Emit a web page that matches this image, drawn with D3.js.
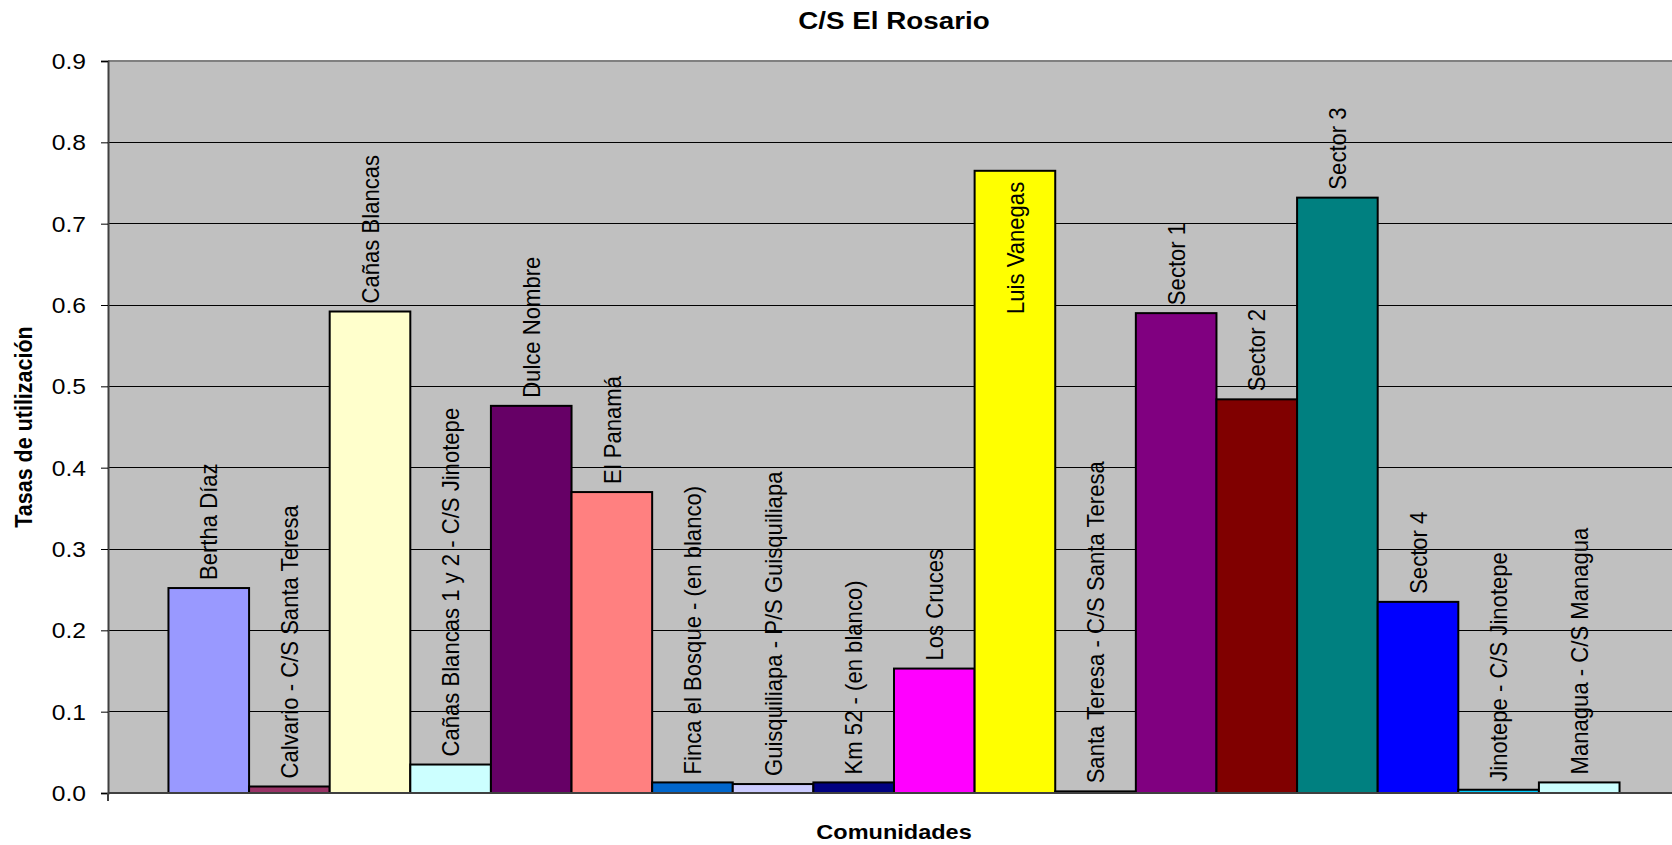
<!DOCTYPE html>
<html>
<head>
<meta charset="utf-8">
<script src="https://cdn.jsdelivr.net/npm/d3@7/dist/d3.min.js"></script>
<style>
  html, body { margin: 0; padding: 0; background: #fff; overflow: hidden; }
  svg { display: block; font-family: "Liberation Sans", Arial, sans-serif; }
</style>
</head>
<body>
<svg id="chart" width="1672" height="845"></svg>
<script>
// Utilization rate per community, C/S El Rosario
const comunidades = [
  "Bertha Díaz",
  "Calvario - C/S Santa Teresa",
  "Cañas Blancas",
  "Cañas Blancas 1 y 2 - C/S Jinotepe",
  "Dulce Nombre",
  "El Panamá",
  "Finca el Bosque - (en blanco)",
  "Guisquiliapa - P/S Guisquiliapa",
  "Km 52 - (en blanco)",
  "Los Cruces",
  "Luis Vanegas",
  "Santa Teresa - C/S Santa Teresa",
  "Sector 1",
  "Sector 2",
  "Sector 3",
  "Sector 4",
  "Jinotepe - C/S Jinotepe",
  "Managua - C/S Managua"
];
const tasas = [0.252, 0.008, 0.592, 0.035, 0.476, 0.370, 0.013, 0.011, 0.013,
               0.153, 0.765, 0.002, 0.590, 0.484, 0.732, 0.235, 0.004, 0.013];
const colores = ["#9999FF", "#993366", "#FFFFCC", "#CCFFFF", "#660066", "#FF8080",
                 "#0066CC", "#CCCCFF", "#000080", "#FF00FF", "#FFFF00", "#00FFFF",
                 "#800080", "#800000", "#008080", "#0000FF", "#00CCFF", "#CCFFFF"];
const yTicks = [0, 0.1, 0.2, 0.3, 0.4, 0.5, 0.6, 0.7, 0.8, 0.9];
const titulo = "C/S El Rosario";
const tituloX = "Comunidades";
const tituloY = "Tasas de utilización";

const svg = d3.select("#chart");
const W = 1672, H = 845;
const plot = { left: 108, right: 1680, top: 61, bottom: 793 };
const sx = 1.12; // glyphs are drawn slightly wide

svg.append("rect").attr("width", W).attr("height", H).attr("fill", "#fff");

const x = d3.scaleBand()
  .domain(comunidades)
  .range([plot.left, plot.right])
  .paddingInner(0)
  .paddingOuter(0.75);

const y = d3.scaleLinear()
  .domain([0, 0.9])
  .range([plot.bottom, plot.top]);

// plot area
svg.append("rect")
  .attr("x", plot.left).attr("y", plot.top)
  .attr("width", plot.right - plot.left)
  .attr("height", plot.bottom - plot.top)
  .attr("fill", "#C0C0C0");

// gridlines
svg.append("g")
  .selectAll("line")
  .data(yTicks.filter(t => t > 0 && t < 0.9))
  .join("line")
  .attr("x1", plot.left).attr("x2", plot.right)
  .attr("y1", d => y(d)).attr("y2", d => y(d))
  .attr("stroke", "#000").attr("stroke-width", 1)
  .attr("shape-rendering", "crispEdges");

// top border of plot area
svg.append("line")
  .attr("x1", plot.left).attr("x2", plot.right)
  .attr("y1", plot.top).attr("y2", plot.top)
  .attr("stroke", "#808080").attr("stroke-width", 2);

// bars
svg.append("g")
  .selectAll("rect")
  .data(comunidades)
  .join("rect")
  .attr("x", d => x(d))
  .attr("y", (d, i) => y(tasas[i]))
  .attr("width", x.bandwidth())
  .attr("height", (d, i) => y(0) - y(tasas[i]))
  .attr("fill", (d, i) => colores[i])
  .attr("stroke", "#000")
  .attr("stroke-width", 2);

// y axis
const yAxis = d3.axisLeft(y)
  .tickValues(yTicks)
  .tickFormat(d3.format(".1f"))
  .tickSize(7)
  .tickPadding(0);
const gy = svg.append("g")
  .attr("transform", `translate(${plot.left},0)`)
  .call(yAxis);
gy.select(".domain").attr("stroke", "#404040").attr("stroke-width", 2);
gy.selectAll(".tick line").attr("stroke", "#000").attr("stroke-width", 1);
gy.selectAll(".tick text").each(function () {
  const t = d3.select(this);
  t.attr("x", null).attr("dy", null)
    .attr("text-anchor", "end")
    .attr("dominant-baseline", "central")
    .attr("fill", "#000")
    .attr("font-size", 22)
    .attr("font-family", "Liberation Sans, Arial, sans-serif")
    .attr("transform", `translate(-22,0) scale(${sx},1)`);
});

// x axis baseline and boundary tick
svg.append("line")
  .attr("x1", plot.left).attr("x2", plot.right)
  .attr("y1", y(0)).attr("y2", y(0))
  .attr("stroke", "#404040").attr("stroke-width", 2);
svg.append("line")
  .attr("x1", plot.left).attr("x2", plot.left)
  .attr("y1", y(0)).attr("y2", y(0) + 8)
  .attr("stroke", "#404040").attr("stroke-width", 2);

// value labels: category names standing above each bar
const gap = 8;
const labels = svg.append("g")
  .selectAll("g")
  .data(comunidades)
  .join("g");
labels.each(function (d, i) {
  const g = d3.select(this);
  const cx = x(d) + x.bandwidth() / 2;
  const top = y(tasas[i]);
  const txt = g.append("text")
    .attr("font-size", 22.1)
    .attr("fill", "#000")
    .attr("dy", "0.35em")
    .attr("text-anchor", "start")
    .text(d);
  const len = txt.node().getComputedTextLength();
  if (top - gap - len < plot.top) {
    // not enough room above: put it inside the bar
    txt.attr("text-anchor", "end");
    g.attr("transform", `translate(${cx},${top + gap + 3}) scale(${sx},1) rotate(-90)`);
  } else {
    g.attr("transform", `translate(${cx},${top - gap}) scale(${sx},1) rotate(-90)`);
  }
});

// titles
const midX = (plot.left + plot.right) / 2;
svg.append("g")
  .attr("transform", `translate(${midX},29) scale(${sx},1)`)
  .append("text")
  .attr("text-anchor", "middle")
  .attr("font-weight", "bold")
  .attr("font-size", 24.8)
  .text(titulo);

svg.append("g")
  .attr("transform", `translate(${midX},839) scale(${sx},1)`)
  .append("text")
  .attr("text-anchor", "middle")
  .attr("font-weight", "bold")
  .attr("font-size", 21)
  .text(tituloX);

svg.append("g")
  .attr("transform", `translate(32,${(plot.top + plot.bottom) / 2}) scale(${sx},1) rotate(-90)`)
  .append("text")
  .attr("text-anchor", "middle")
  .attr("font-weight", "bold")
  .attr("font-size", 21.5)
  .text(tituloY);
</script>
</body>
</html>
